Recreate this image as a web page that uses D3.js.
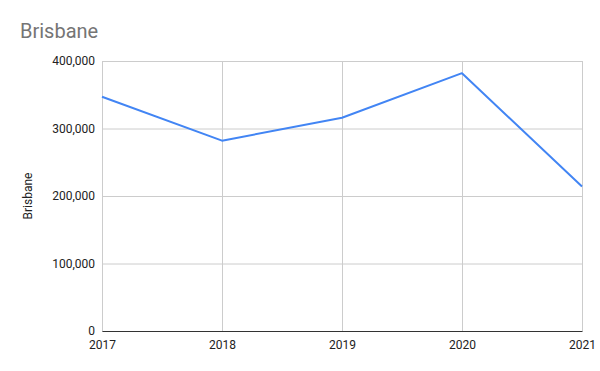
<!DOCTYPE html>
<html>
<head>
<meta charset="utf-8">
<script src="https://cdn.jsdelivr.net/npm/d3@7"></script>
<style>
  body { margin: 0; background: #fff; }
  text { font-family: Roboto, Arial, sans-serif; }
</style>
</head>
<body>
<div id="chart"></div>
<script>
var years = [2017, 2018, 2019, 2020, 2021];
var brisbane = [347000, 282000, 316000, 382000, 214000];
var yTicks = [0, 100000, 200000, 300000, 400000];

var svgWidth = 600;
var svgHeight = 371;

var margin = {
  top: 61,
  right: 18,
  bottom: 40,
  left: 102
};
var chartWidth = svgWidth - margin.left - margin.right;
var chartHeight = svgHeight - margin.top - margin.bottom;

var svg = d3.select("#chart").append("svg")
      .attr("width", svgWidth)
      .attr("height", svgHeight);

svg.append("rect")
  .attr("width", svgWidth)
  .attr("height", svgHeight)
  .attr("fill", "#fff");

var chartGroup = svg.append("g")
      .attr("transform", `translate(${margin.left}, ${margin.top})`);

// scales
var xScale = d3.scaleLinear()
  .domain([d3.min(years), d3.max(years)])
  .range([0, chartWidth]);

var yScale = d3.scaleLinear()
  .domain([0, 400000])
  .range([chartHeight, 0]);

// horizontal gridlines
chartGroup.append("g")
  .call(d3.axisLeft(yScale).tickValues(yTicks).tickSize(-chartWidth).tickFormat(""))
  .call(g => g.select(".domain").remove())
  .call(g => g.selectAll("line").attr("stroke", "#cccccc"));

// vertical gridlines
chartGroup.append("g")
  .attr("transform", `translate(0, ${chartHeight})`)
  .call(d3.axisBottom(xScale).tickValues(years).tickSize(-chartHeight).tickFormat(""))
  .call(g => g.select(".domain").remove())
  .call(g => g.selectAll("line").attr("stroke", "#cccccc"));

// y axis labels
chartGroup.append("g")
  .call(d3.axisLeft(yScale).tickValues(yTicks).tickSize(0).tickPadding(7).tickFormat(d3.format(",")))
  .call(g => g.select(".domain").remove())
  .call(g => g.selectAll("text")
    .attr("fill", "#222")
    .attr("font-size", "12px")
    .style("font-family", "Roboto, Arial, sans-serif"));

// x axis
chartGroup.append("g")
  .attr("transform", `translate(0, ${chartHeight})`)
  .call(d3.axisBottom(xScale).tickValues(years).tickSize(0).tickPadding(9).tickFormat(d3.format("d")))
  .call(g => g.select(".domain").attr("stroke", "#333").attr("stroke-width", 1))
  .call(g => g.selectAll("text")
    .attr("fill", "#222")
    .attr("font-size", "12px")
    .style("font-family", "Roboto, Arial, sans-serif"));

// line
var line = d3.line()
  .x((d, i) => xScale(years[i]))
  .y(d => yScale(d));

chartGroup.append("path")
  .datum(brisbane)
  .attr("d", line)
  .attr("fill", "none")
  .attr("stroke", "#4285f4")
  .attr("stroke-width", 2)
  .attr("stroke-linejoin", "round");

// title
svg.append("text")
  .attr("x", 20)
  .attr("y", 38)
  .attr("font-size", "20px")
  .attr("fill", "#757575")
  .text("Brisbane");

// y axis title
svg.append("text")
  .attr("transform", "rotate(-90)")
  .attr("x", -(margin.top + chartHeight / 2))
  .attr("y", 32)
  .attr("text-anchor", "middle")
  .attr("font-size", "12px")
  .attr("fill", "#222")
  .text("Brisbane");
</script>
</body>
</html>
